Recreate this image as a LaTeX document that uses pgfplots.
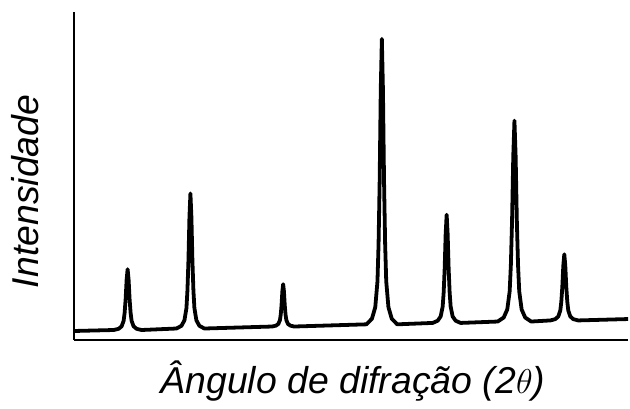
\documentclass[border=0pt]{standalone}
\usepackage{fontspec}
\setmainfont{Liberation Sans}
\usepackage{pgfplots}
\pgfplotsset{compat=1.18}
\begin{document}
\begin{tikzpicture}
\begin{axis}[
  scale only axis,
  width=278pt, height=164.5pt,
  xmin=74, xmax=630, ymin=0, ymax=329,
  axis x line=bottom, axis y line=left,
  axis line style={-, line width=1.1pt, black},
  xtick=\empty, ytick=\empty,
  clip=false,
]
\addplot[black, line width=1.9pt, line join=round] coordinates {
(74,9)
(114,10) (119,11.2) (122,13.7) (124,19.2) (125,27.2) (126,40.8) (127,60.4) (128,71) (129,60.4) (130,40.8) (131,27.2) (132,19.2) (134,13.7) (137,11.2) (142,10)
(177,11.5) (182,14.2) (185,19.7) (187,31.9) (188,49.6) (189,79.5) (190,123) (191,147) (192,123) (193,79.5) (194,49.6) (195,31.9) (197,19.7) (200,14.2) (205,11.5)
(273,13.5) (276.8,14.4) (279.2,16.1) (280.8,20) (281.6,25.5) (282.4,35) (283.2,48.8) (284,56) (284.8,48.8) (285.6,35) (286.4,25.5) (287.2,20) (288.8,16.1) (291.2,14.4) (295,13.5)
(367.6,15.7) (373.1,21.4) (376.4,32.9) (378.6,58.7) (379.7,96.1) (380.8,159.2) (381.9,251) (383,302) (384.1,251) (385.2,159.2) (386.3,96.1) (387.4,58.7) (389.6,32.9) (392.9,21.4) (398.4,15.7)
(434,17.1) (439,19.3) (442,23.6) (444,33.5) (445,47.6) (446,71.6) (447,106.5) (448,125.6) (449,106.5) (450,71.6) (451,47.6) (452,33.5) (454,23.6) (457,19.3) (462,17.1)
(499.2,18.5) (505.2,22.5) (508.8,30.6) (511.2,48.8) (512.4,75.1) (513.6,119.5) (514.8,184.1) (516,220) (517.2,184.1) (518.4,119.5) (519.6,75.1) (520.8,48.8) (523.2,30.6) (526.8,22.5) (532.8,18.5)
(552,19.6) (557,20.9) (560,23.6) (562,29.6) (563,38.4) (564,53.1) (565,74.5) (566,86) (567,74.5) (568,53.1) (569,38.4) (570,29.6) (572,23.6) (575,20.9) (580,19.6)
(630,21)
};
\path[draw=none] (axis cs:0,-64) rectangle (axis cs:630,341);
\node[anchor=base, font=\itshape\fontsize{18.75}{22}\selectfont] at (axis cs:354,-54) {Ângulo de difração (2$\theta$)};
\node[anchor=base, rotate=90, font=\itshape\fontsize{18.75}{22}\selectfont] at (axis cs:39,149) {Intensidade};
\end{axis}
\end{tikzpicture}
\end{document}
